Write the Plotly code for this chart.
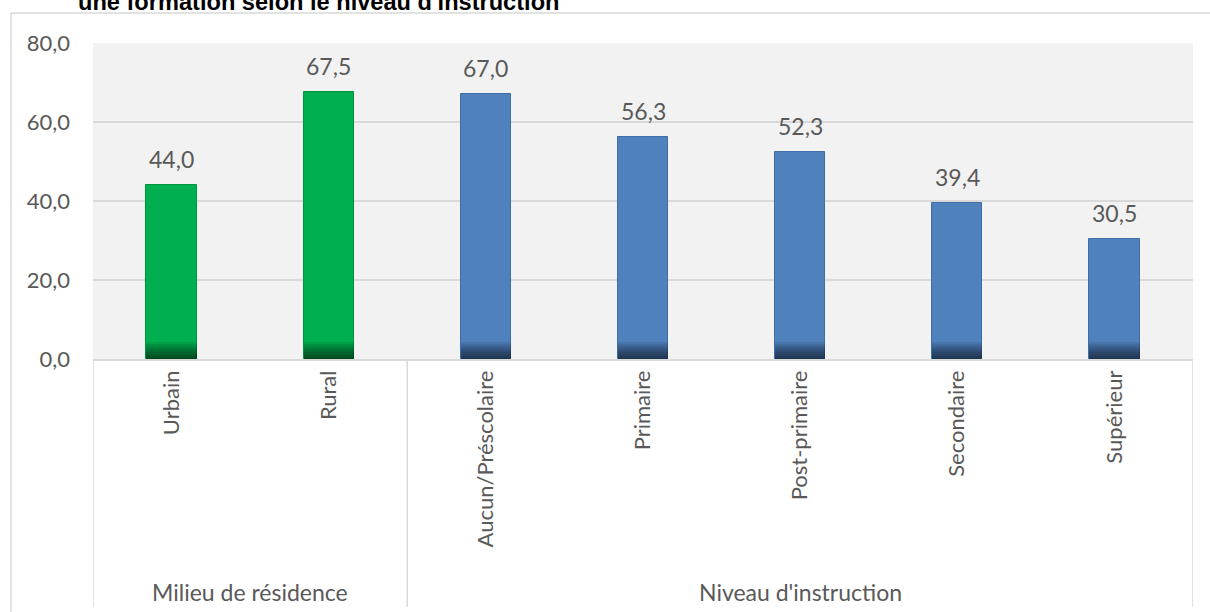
import plotly.graph_objects as go

categories = ["Urbain", "Rural", "Aucun/Préscolaire", "Primaire", "Post-primaire", "Secondaire", "Supérieur"]
groups = ["Milieu de résidence", "Milieu de résidence", "Niveau d'instruction", "Niveau d'instruction",
          "Niveau d'instruction", "Niveau d'instruction", "Niveau d'instruction"]
values = [44.0, 67.5, 67.0, 56.3, 52.3, 39.4, 30.5]
y_ticks = [0, 20, 40, 60, 80]
y_ticklabels = ["0,0", "20,0", "40,0", "60,0", "80,0"]
title_text = "une formation selon le niveau d'instruction"

GREEN = "#00b050"
BLUE = "#4f81bd"
colors = [GREEN if g == "Milieu de résidence" else BLUE for g in groups]
edge = ["#00923f" if g == "Milieu de résidence" else "#3f6ea6" for g in groups]
FONT = "Lato"
TXT = "#595959"

fig = go.Figure()
fig.add_trace(go.Bar(x=categories, y=values, marker=dict(color=colors, line=dict(color=edge, width=1)),
                     width=0.32, hoverinfo="x+y"))
# bottom shading (gradient emulation)
for k in range(8):
    h = 4.2 - k * 0.5
    fig.add_trace(go.Bar(x=categories, y=[h] * len(categories), width=0.32,
                         marker=dict(color="rgba(0,0,0,0.085)", line=dict(width=0)),
                         hoverinfo="skip"))

for c, v in zip(categories, values):
    fig.add_annotation(x=c, y=v, text=f"{v:.1f}".replace(".", ","), showarrow=False,
                       yanchor="bottom", yshift=10, font=dict(family=FONT, size=23, color=TXT))

# group labels and separators
idx = {}
for i, g in enumerate(groups):
    idx.setdefault(g, []).append(i)
bounds = [-0.5]
for g, ids in idx.items():
    fig.add_annotation(x=sum(ids) / len(ids), xref="x", y=-0.737, yref="paper", text=g, showarrow=False,
                       yanchor="middle", font=dict(family=FONT, size=23, color=TXT))
    bounds.append(max(ids) + 0.5)
for b in bounds:
    fig.add_shape(type="line", xref="x", yref="paper", x0=b, x1=b, y0=0, y1=-0.785,
                  line=dict(color="#d9d9d9", width=1.5))

# outer chart border
fig.add_shape(type="line", xref="paper", yref="paper", x0=-0.0745, x1=1.02, y0=1.095, y1=1.095,
              line=dict(color="#d9d9d9", width=1.5))
fig.add_shape(type="line", xref="paper", yref="paper", x0=-0.0745, x1=-0.0745, y0=1.095, y1=-0.8,
              line=dict(color="#d9d9d9", width=1.5))

fig.add_annotation(xref="paper", yref="paper", x=-0.0155, y=1.0, xanchor="left", yanchor="bottom",
                   yshift=26, text=title_text, showarrow=False,
                   font=dict(family="Liberation Sans", size=23.6, color="#000000", weight="bold"))

fig.update_layout(
    width=1210, height=612,
    margin=dict(l=93, r=17, t=43, b=253),
    paper_bgcolor="white", plot_bgcolor="#f2f2f2",
    barmode="overlay", bargap=0, showlegend=False,
    font=dict(family=FONT, size=23, color=TXT),
)
fig.update_xaxes(type="category", tickangle=-90, showgrid=False, ticks="", ticklabelstandoff=1,
                 showline=True, linecolor="#d9d9d9", linewidth=1.5,
                 tickfont=dict(family=FONT, size=22, color=TXT), range=[-0.5, 6.5])
fig.update_yaxes(range=[0, 80], tickvals=y_ticks, ticktext=y_ticklabels, showgrid=True,
                 gridcolor="#d9d9d9", gridwidth=1.5, zeroline=False, showline=False,
                 ticklabelstandoff=22, tickfont=dict(family=FONT, size=22, color=TXT))

fig.write_html("out.html", config={"displayModeBar": False},
               post_script="document.body.style.margin='0';document.body.style.padding='0';")
